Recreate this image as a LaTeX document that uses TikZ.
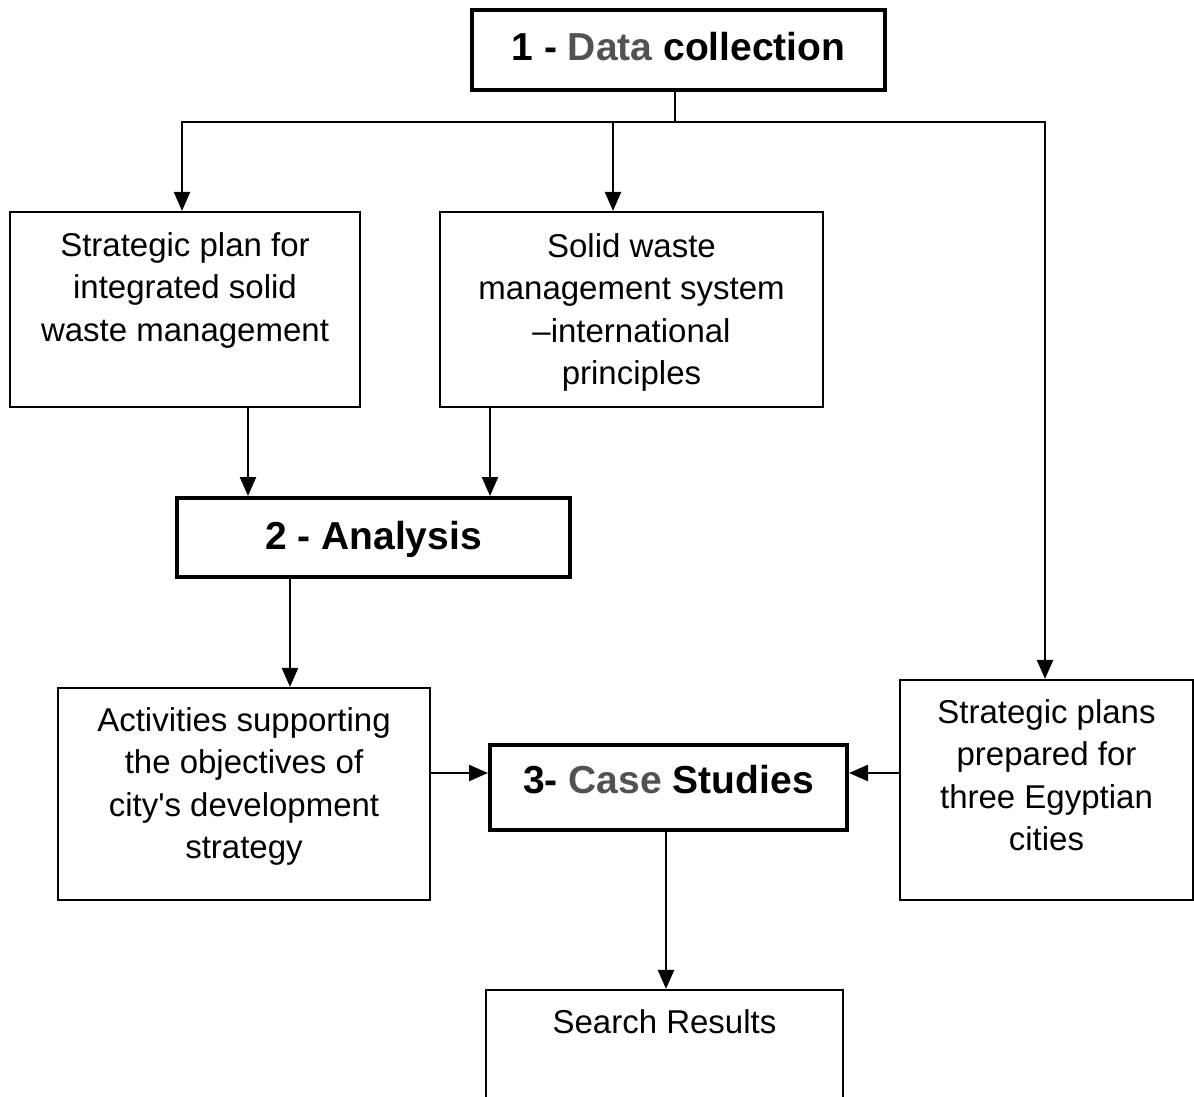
\documentclass[tikz,border=0pt]{standalone}
\usepackage{fontspec}
\setmainfont{Liberation Sans}
\usetikzlibrary{arrows.meta}
\begin{document}
\begin{tikzpicture}[x=1pt,y=-1pt,
  thinbox/.style={draw, line width=2.2pt, inner sep=0pt},
  thickbox/.style={draw, line width=4pt, inner sep=0pt,
     font=\fontsize{39}{46}\selectfont\bfseries, text height=28pt, text depth=0pt},
  txt/.style={font=\fontsize{33}{42.5}\selectfont, align=center, inner sep=0pt, anchor=north},
  ln/.style={line width=2.4pt},
  arr/.style={line width=2.4pt, -{Triangle[length=19pt,width=16pt]}}]
\useasboundingbox[fill=white] (0,0) rectangle (1194,1097);

% boxes
\node[thickbox, text depth=6pt, minimum width=413pt, minimum height=80pt] (dc) at (678.5,50)
  {1 - {\color{black!68}Data} collection};
\node[thinbox, minimum width=350pt, minimum height=195pt] (sp) at (185,309.5) {};
\node[thinbox, minimum width=383pt, minimum height=195pt] (sw) at (631.5,309.5) {};
\node[thickbox, text depth=5pt, minimum width=393pt, minimum height=79pt] (an) at (373.5,537.5) {2 - Analysis};
\node[thinbox, minimum width=372pt, minimum height=212pt] (act) at (244,794) {};
\node[thickbox, text depth=17pt, minimum width=357pt, minimum height=85pt] (cs) at (668.5,787.5)
  {3- {\color{black!68}Case} Studies};
\node[thinbox, minimum width=293pt, minimum height=220pt] (spp) at (1046.5,790) {};
\node[thinbox, minimum width=357pt, minimum height=140pt] (sr) at (664.5,1060) {};

% texts
\node[txt] (tsp) at (185,232) {Strategic plan for\\integrated solid\\waste management};
\node[txt] (tsw) at (631.5,233) {Solid waste\\management system\\\textendash international\\principles};
\node[txt] (tact) at (244,707) {Activities supporting\\the objectives of\\city\textquotesingle s development\\strategy};
\node[txt] (tspp) at (1046.5,699) {Strategic plans\\prepared for\\three Egyptian\\cities};
\node[txt] (tsr) at (664.5,1009) {Search Results};

% helper coordinates
\coordinate (hub) at (675,122);
\coordinate (xa) at (182,0);
\coordinate (xb) at (613,0);
\coordinate (xc) at (1045,0);
\coordinate (xd) at (248,0);
\coordinate (xe) at (490,0);
\coordinate (xf) at (290,0);
\coordinate (xg) at (666,0);
\coordinate (ym) at (0,773);

% connectors
\draw[ln] (dc.south -| hub) -- (hub);
\draw[arr] (hub) -| (sp.north -| xa);
\draw[arr] (hub) -| (sw.north -| xb);
\draw[arr] (hub) -| (spp.north -| xc);
\draw[arr] (sp.south -| xd) -- (an.north -| xd);
\draw[arr] (sw.south -| xe) -- (an.north -| xe);
\draw[arr] (an.south -| xf) -- (act.north -| xf);
\draw[arr] (act.east |- ym) -- (cs.west |- ym);
\draw[arr] (spp.west |- ym) -- (cs.east |- ym);
\draw[arr] (cs.south -| xg) -- (sr.north -| xg);
\end{tikzpicture}
\end{document}
